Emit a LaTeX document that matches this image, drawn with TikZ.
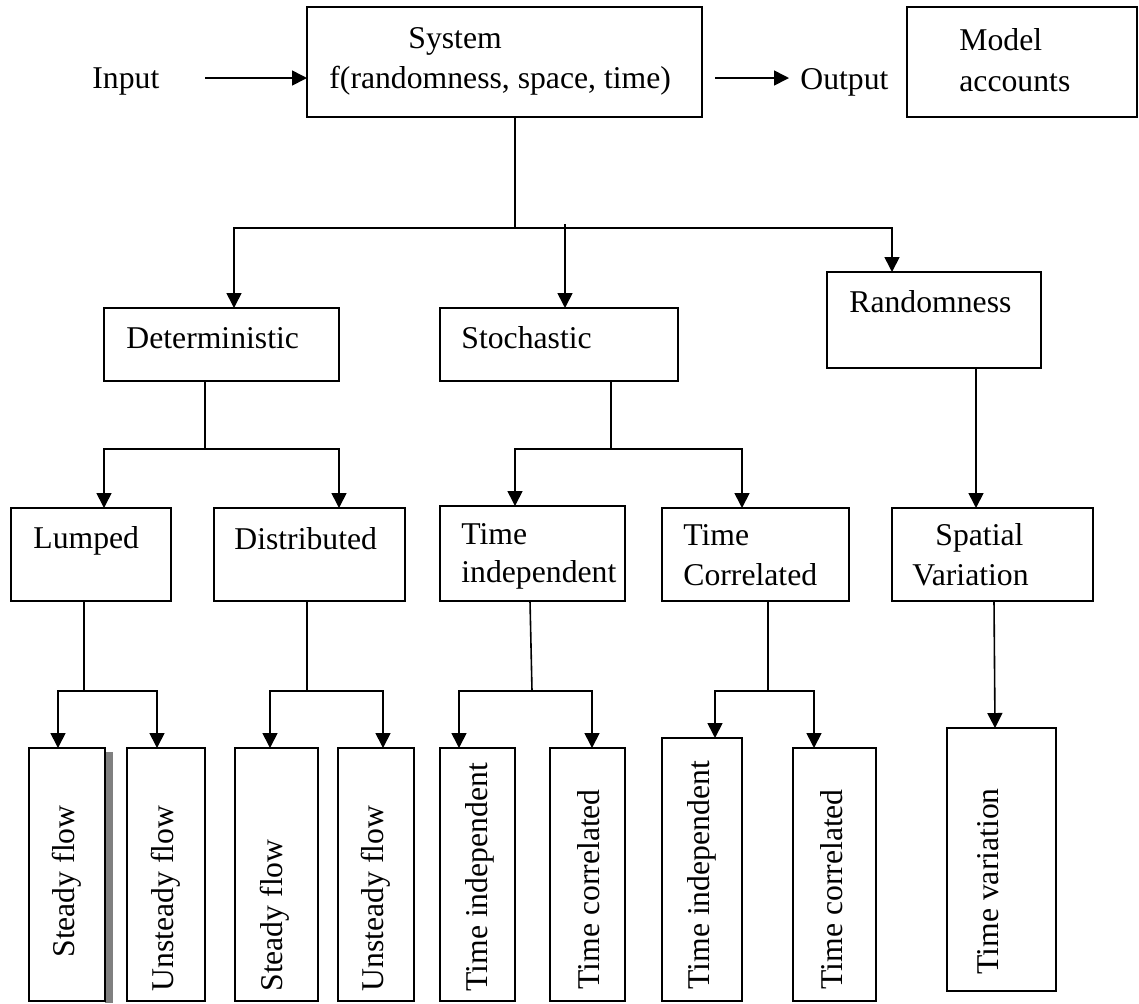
\documentclass[tikz,border=0pt]{standalone}
\usepackage{fontspec}
\setmainfont{Liberation Serif}
\usetikzlibrary{arrows.meta}
\begin{document}
\begin{tikzpicture}[x=0.5pt,y=-0.5pt,
  box/.style={draw, line width=0.9pt, inner sep=0pt, outer sep=0pt},
  lbl/.style={inner sep=0pt, anchor=base west, font=\fontsize{15.85}{20}\selectfont},
  vlbl/.style={inner sep=0pt, anchor=west, rotate=90, font=\fontsize{15.85}{20}\selectfont},
  conn/.style={line width=0.8pt},
  arr/.style={conn, -{Triangle[length=7.5pt,width=7.5pt]}},
  shadowbar/.style={fill=black!50, draw=none}]
\useasboundingbox (0,0) rectangle (1139,1003);

% shadow of first steady-flow box
\fill[shadowbar] (105,752) rectangle (113,1003);

% boxes
\node[box, minimum width=197.5pt, minimum height=55pt] (sys) at (504.5,62) {};
\node[box, minimum width=115pt, minimum height=55pt] (mod) at (1022,62) {};
\node[box, minimum width=117.5pt, minimum height=36.5pt] (det) at (221.5,344.5) {};
\node[box, minimum width=119pt, minimum height=36.5pt] (sto) at (559,344.5) {};
\node[box, minimum width=107pt, minimum height=48pt] (ran) at (934,320) {};
\node[box, minimum width=80pt, minimum height=46.5pt] (lum) at (91,554.5) {};
\node[box, minimum width=95.5pt, minimum height=46.5pt] (dis) at (309.5,554.5) {};
\node[box, minimum width=92.5pt, minimum height=47.5pt] (tin) at (532.5,553.5) {};
\node[box, minimum width=93.5pt, minimum height=46.5pt] (tco) at (755.5,554.5) {};
\node[box, minimum width=100.5pt, minimum height=46.5pt] (spa) at (992.5,554.5) {};
\node[box, minimum width=38pt, minimum height=126.5pt] (sf1) at (67,874.5) {};
\node[box, minimum width=39pt, minimum height=126.5pt] (uf1) at (166,874.5) {};
\node[box, minimum width=41.5pt, minimum height=126.5pt] (sf2) at (276.5,874.5) {};
\node[box, minimum width=38pt, minimum height=126.5pt] (uf2) at (376,874.5) {};
\node[box, minimum width=37.5pt, minimum height=126.5pt] (ti1) at (477.5,874.5) {};
\node[box, minimum width=37.5pt, minimum height=126.5pt] (tc1) at (587.5,874.5) {};
\node[box, minimum width=40pt, minimum height=131.5pt] (ti2) at (702,869.5) {};
\node[box, minimum width=41.5pt, minimum height=126.5pt] (tc2) at (834.5,874.5) {};
\node[box, minimum width=54.5pt, minimum height=131.5pt] (tv) at (1001.5,859.5) {};

% texts
\node[lbl] (inp) at (92,88) {Input};
\node[lbl] (tsys1) at (408,48) {System};
\node[lbl] (tsys2) at (329,88) {f(randomness, space, time)};
\node[lbl] (out) at (800,89) {Output};
\node[lbl] (tmod1) at (959,50) {Model};
\node[lbl] (tmod2) at (959,91) {accounts};
\node[lbl] (tdet) at (126,348) {Deterministic};
\node[lbl] (tsto) at (461,348) {Stochastic};
\node[lbl] (tran) at (849,312) {Randomness};
\node[lbl] (tlum) at (33,548) {Lumped};
\node[lbl] (tdis) at (234,549) {Distributed};
\node[lbl] (ttin1) at (461,544) {Time};
\node[lbl] (ttin2) at (461,582) {independent};
\node[lbl] (ttco1) at (683,545) {Time};
\node[lbl] (ttco2) at (683,585) {Correlated};
\node[lbl] (tspa1) at (935,545) {Spatial};
\node[lbl] (tspa2) at (912,585) {Variation};

\node[vlbl] (tsf1) at (67,958) {Steady flow};
\node[vlbl] (tuf1) at (166,992) {Unsteady flow};
\node[vlbl] (tsf2) at (275,992) {Steady flow};
\node[vlbl] (tuf2) at (376,992) {Unsteady flow};
\node[vlbl] (tti1) at (480,992) {Time independent};
\node[vlbl] (ttc1) at (589,990) {Time correlated};
\node[vlbl] (tti2) at (702,990) {Time independent};
\node[vlbl] (ttc2) at (832,990) {Time correlated};
\node[vlbl] (ttv) at (988,975) {Time variation};

% input / output arrows
\coordinate (ia) at (205,78);
\draw[arr] (ia) -- (ia -| sys.west);
\coordinate (os) at (715,78);
\coordinate (oe) at (789,78);
\draw[arr] (os) -- (oe);

% system tree
\coordinate (jsys) at (515,228);
\draw[conn] (sys.south -| jsys) -- (jsys);
\draw[arr] (jsys) -| ([xshift=6.25pt]det.north);
\draw[arr] (jsys) -| ([xshift=-21pt]ran.north);
\coordinate (jsto) at (565,224);
\draw[arr] (jsto) -- (jsto |- sto.north);

% deterministic
\coordinate (jdet) at (205,449);
\draw[conn] (det.south -| jdet) -- (jdet);
\draw[arr] (jdet) -| ([xshift=6.5pt]lum.north);
\draw[arr] (jdet) -| ([xshift=14.75pt]dis.north);

% stochastic
\coordinate (jst2) at (611,449);
\draw[conn] (sto.south -| jst2) -- (jst2);
\draw[arr] (jst2) -| ([xshift=-8.75pt]tin.north);
\draw[arr] (jst2) -| ([xshift=-6.75pt]tco.north);

% randomness
\draw[arr] ([xshift=21pt]ran.south) -- ([xshift=-8.25pt]spa.north);

% lumped
\coordinate (jlum) at (84,691);
\draw[conn] (lum.south -| jlum) -- (jlum);
\draw[arr] (jlum) -| ([xshift=-4.5pt]sf1.north);
\draw[arr] (jlum) -| ([xshift=-4.5pt]uf1.north);

% distributed
\coordinate (jdis) at (307,691);
\draw[conn] (dis.south -| jdis) -- (jdis);
\draw[arr] (jdis) -| ([xshift=-3.25pt]sf2.north);
\draw[arr] (jdis) -| ([xshift=3.5pt]uf2.north);

% time independent
\coordinate (jtin) at (532,691);
\draw[conn] ([xshift=-1.25pt]tin.south) -- (jtin);
\draw[arr] (jtin) -| ([xshift=-9.25pt]ti1.north);
\draw[arr] (jtin) -| ([xshift=2.25pt]tc1.north);

% time correlated
\coordinate (jtco) at (768,691);
\draw[conn] (tco.south -| jtco) -- (jtco);
\draw[arr] (jtco) -| ([xshift=6.5pt]ti2.north);
\draw[arr] (jtco) -| ([xshift=-10.25pt]tc2.north);

% spatial
\draw[arr] ([xshift=0.75pt]spa.south) -- ([xshift=-3.25pt]tv.north);
\end{tikzpicture}
\end{document}
